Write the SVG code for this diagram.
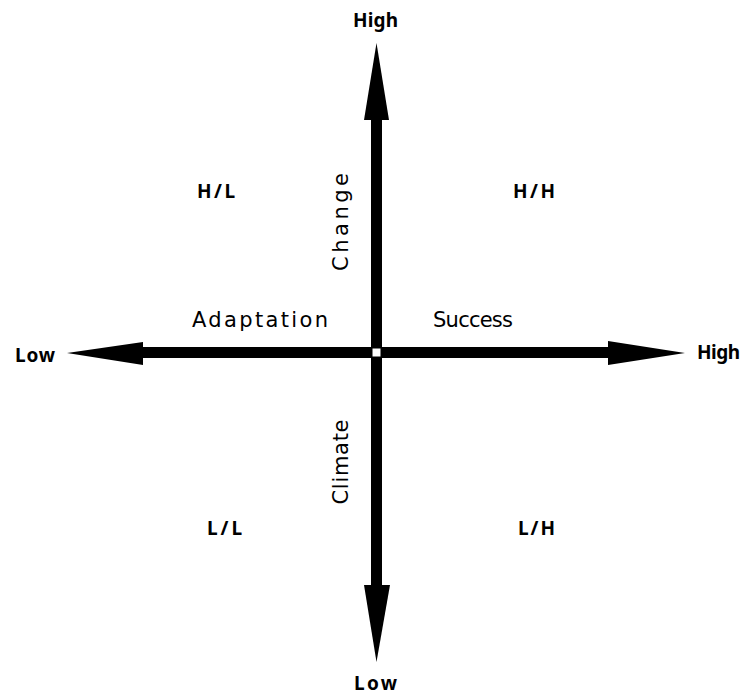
<svg xmlns="http://www.w3.org/2000/svg" width="742" height="695" viewBox="0 0 742 695">
<style>
.ax{fill:#000}
.b{font-family:"Noto Sans","DejaVu Sans",sans-serif;font-weight:bold;font-size:19px;fill:#000}
.q{font-family:"Noto Sans","DejaVu Sans",sans-serif;font-weight:bold;font-size:19px;fill:#000}
.r{font-family:"DejaVu Sans","Liberation Sans",sans-serif;font-size:21px;fill:#000}
</style>
<rect width="742" height="695" fill="#fff"/>
<g id="connectors">
<g id="arrow-up"><rect class="ax" x="371" y="118" width="11" height="234"/><polygon class="ax" points="376.5,43 389,120 364,120"/></g>
<g id="arrow-down"><rect class="ax" x="371" y="352" width="11" height="236"/><polygon class="ax" points="364,585 390,585 376.5,662"/></g>
<g id="arrow-left"><rect class="ax" x="141" y="347" width="236" height="11"/><polygon class="ax" points="67,353 143,342 143,365"/></g>
<g id="arrow-right"><rect class="ax" x="376" y="347" width="234" height="11"/><polygon class="ax" points="608,341 608,365 685,353"/></g>
<rect x="372" y="348" width="9" height="9" fill="#fff" stroke="#000" stroke-width="1"/>
</g>
<g id="top-high"><text class="b" x="353" y="27" textLength="45">High</text></g>
<g id="bottom-low"><text class="b" x="354" y="690" textLength="43">Low</text></g>
<g id="left-low"><text class="b" x="15" y="362" textLength="40">Low</text></g>
<g id="right-high"><text class="b" x="697" y="359" textLength="43">High</text></g>
<g id="hl"><text class="q" x="197" y="198" textLength="38">H/L</text></g>
<g id="hh"><text class="q" x="513" y="198" textLength="42">H/H</text></g>
<g id="ll"><text class="q" x="207" y="535" textLength="35">L/L</text></g>
<g id="lh"><text class="q" x="518" y="535" textLength="37">L/H</text></g>
<g id="adaptation"><text class="r" x="192" y="327" textLength="136">Adaptation</text></g>
<g id="success"><text class="r" x="433" y="327" textLength="80">Success</text></g>
<g id="change"><text class="r" transform="translate(348,222) rotate(-90)" text-anchor="middle" textLength="98">Change</text></g>
<g id="climate"><text class="r" transform="translate(348,462) rotate(-90)" text-anchor="middle" textLength="85">Climate</text></g>
</svg>
